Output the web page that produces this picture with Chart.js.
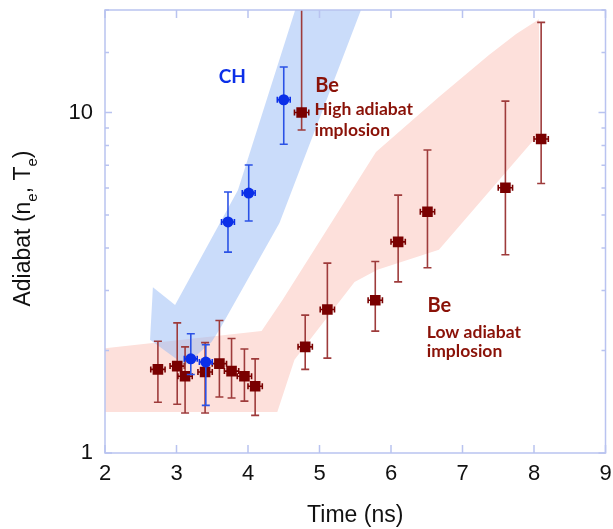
<!DOCTYPE html>
<html>
<head>
<meta charset="utf-8">
<script src="https://cdn.jsdelivr.net/npm/chart.js@4.4.1/dist/chart.umd.min.js"></script>
<style>
  html, body { margin: 0; padding: 0; background: #fff; }
</style>
</head>
<body>
<canvas id="chart" width="613" height="529"></canvas>
<script>
// CH shots (blue circles)
const chTime = [3.20, 3.41, 3.72, 4.01, 4.50];
const chAdiabat = [1.89, 1.85, 4.77, 5.80, 10.9];
const chLow = [1.70, 1.38, 3.89, 4.80, 8.07];
const chHigh = [2.24, 2.08, 5.84, 7.01, 13.6];

// Be low adiabat implosion (dark red squares)
const beLowTime = [2.74, 3.01, 3.12, 3.40, 3.60, 3.77, 3.95, 4.10, 4.80, 5.11, 5.78, 6.10, 6.51, 7.60, 8.10];
const beLowAdiabat = [1.76, 1.80, 1.68, 1.73, 1.83, 1.74, 1.68, 1.57, 2.05, 2.64, 2.81, 4.17, 5.11, 6.01, 8.36];
const beLowLow = [1.41, 1.39, 1.31, 1.31, 1.46, 1.45, 1.42, 1.29, 1.76, 1.90, 2.28, 3.18, 3.50, 3.82, 6.19];
const beLowHigh = [2.13, 2.41, 2.05, 2.11, 2.45, 2.17, 2.02, 1.89, 2.54, 3.61, 3.65, 5.72, 7.76, 10.8, 18.4];

// Be high adiabat implosion
const beHighTime = [4.75];
const beHighAdiabat = [10.0];
const beHighLow = [8.88];
const beHighHigh = [26];

// shaded simulation bands (outline, in data units)
const blueBandX = [4.66, 5.58, 4.44, 3.60, 3.49, 3.12, 2.63, 2.67, 2.98, 3.86];
const blueBandY = [20, 20, 4.74, 2.30, 2.12, 1.81, 2.15, 3.07, 2.72, 5.92];
const redBandX = [2.00, 4.19, 4.48, 5.79, 6.67, 7.37, 7.75, 8.07, 8.08, 6.67, 5.81, 5.49, 4.65, 4.41, 2.00];
const redBandY = [2.03, 2.28, 2.81, 7.66, 11.1, 14.75, 17.0, 18.8, 8.71, 3.95, 3.45, 3.18, 1.88, 1.32, 1.32];

const xTicks = [2, 3, 4, 5, 6, 7, 8, 9];
const yLabels = [1, 10];

const axisColor = '#b9c3f0';
const beColor = '#7a0000';
const beErrColor = '#9e3b3b';
const beTextColor = '#8a1208';
const chColor = '#0b2fe8';
const chErrColor = '#2b52e6';

function pts(xs, ys) {
    return xs.map((x, i) => ({ x: x, y: ys[i] }));
}

// error bars, drawn right before the markers of each dataset
const errorBars = {
    id: 'errorBars',
    beforeDatasetDraw(chart, args) {
        const ds = chart.data.datasets[args.index];
        if (!ds.yLow) return;
        const { ctx, chartArea: a, scales: { x, y } } = chart;
        ctx.save();
        ctx.beginPath();
        ctx.rect(a.left, a.top, a.right - a.left, a.bottom - a.top);
        ctx.clip();
        ds.data.forEach((p, i) => {
            const px = x.getPixelForValue(p.x);
            const py = y.getPixelForValue(p.y);
            const top = y.getPixelForValue(ds.yHigh[i]);
            const bot = y.getPixelForValue(ds.yLow[i]);
            const l = x.getPixelForValue(p.x - ds.xErr);
            const r = x.getPixelForValue(p.x + ds.xErr);
            ctx.strokeStyle = ds.errColor;
            ctx.lineWidth = 1.6;
            ctx.beginPath();
            ctx.moveTo(px, top); ctx.lineTo(px, bot);
            ctx.moveTo(px - 4, top); ctx.lineTo(px + 4, top);
            ctx.moveTo(px - 4, bot); ctx.lineTo(px + 4, bot);
            ctx.stroke();
            ctx.strokeStyle = ds.xErrColor;
            ctx.beginPath();
            ctx.moveTo(l, py); ctx.lineTo(r, py);
            ctx.moveTo(l, py - 3); ctx.lineTo(l, py + 3);
            ctx.moveTo(r, py - 3); ctx.lineTo(r, py + 3);
            ctx.stroke();
        });
        ctx.restore();
    }
};

// frame with inward ticks, y title with subscripts, text labels
const frame = {
    id: 'frame',
    afterDraw(chart) {
        const { ctx, chartArea: a, scales: { x, y } } = chart;
        ctx.save();
        ctx.strokeStyle = axisColor;
        ctx.lineWidth = 1.5;
        ctx.strokeRect(a.left, a.top, a.right - a.left, a.bottom - a.top);
        ctx.beginPath();
        x.ticks.forEach(t => {
            const px = x.getPixelForValue(t.value);
            ctx.moveTo(px, a.bottom); ctx.lineTo(px, a.bottom - 8);
            ctx.moveTo(px, a.top); ctx.lineTo(px, a.top + 8);
        });
        y.ticks.forEach(t => {
            const py = y.getPixelForValue(t.value);
            const len = yLabels.includes(t.value) ? 7 : 4;
            ctx.moveTo(a.left, py); ctx.lineTo(a.left + len, py);
            ctx.moveTo(a.right, py); ctx.lineTo(a.right - len, py);
        });
        ctx.stroke();
        ctx.restore();

        // y axis title: Adiabat (n_e, T_e)
        const parts = [
            ['Adiabat (n', 23, 0], ['e', 15, 7], [', T', 23, 0], ['e', 15, 7], [')', 23, 0]
        ];
        ctx.save();
        ctx.fillStyle = '#111';
        ctx.textBaseline = 'alphabetic';
        let total = 0;
        parts.forEach(p => {
            ctx.font = p[1] + 'px "Liberation Sans", Arial, sans-serif';
            total += ctx.measureText(p[0]).width;
        });
        ctx.translate(30, (a.top + a.bottom) / 2 - 3);
        ctx.rotate(-Math.PI / 2);
        let cx = -total / 2;
        parts.forEach(p => {
            ctx.font = p[1] + 'px "Liberation Sans", Arial, sans-serif';
            ctx.fillText(p[0], cx, p[2]);
            cx += ctx.measureText(p[0]).width;
        });
        ctx.restore();

        // annotations
        const notes = [
            ['CH', 3.59, 12.2, 19, chColor],
            ['Be', 4.94, 11.5, 20, beTextColor],
            ['High adiabat', 4.93, 9.83, 17.5, beTextColor],
            ['implosion', 4.93, 8.53, 17.5, beTextColor],
            ['Be', 6.51, 2.60, 20, beTextColor],
            ['Low adiabat', 6.50, 2.18, 17.5, beTextColor],
            ['implosion', 6.50, 1.91, 17.5, beTextColor]
        ];
        ctx.save();
        ctx.textBaseline = 'alphabetic';
        notes.forEach(n => {
            ctx.font = 'bold ' + n[3] + 'px Lato, "Open Sans", sans-serif';
            ctx.fillStyle = n[4];
            ctx.fillText(n[0], x.getPixelForValue(n[1]), y.getPixelForValue(n[2]));
        });
        ctx.restore();
    }
};

const ctx = document.getElementById('chart').getContext('2d');
const chart = new Chart(ctx, {
    type: 'scatter',
    data: {
        datasets: [
            {
                label: 'Be band',
                data: pts(redBandX, redBandY),
                showLine: true,
                fill: 'shape',
                backgroundColor: '#fde0db',
                borderWidth: 0,
                pointRadius: 0,
                tension: 0,
                order: 4
            },
            {
                label: 'CH band',
                data: pts(blueBandX, blueBandY),
                showLine: true,
                fill: 'shape',
                backgroundColor: 'rgba(150, 186, 246, 0.5)',
                borderWidth: 0,
                pointRadius: 0,
                tension: 0,
                order: 3
            },
            {
                label: 'Be low adiabat',
                data: pts(beLowTime, beLowAdiabat),
                yLow: beLowLow,
                yHigh: beLowHigh,
                xErr: 0.1,
                errColor: beErrColor,
                xErrColor: beColor,
                pointStyle: 'rect',
                pointRadius: 7.5,
                backgroundColor: beColor,
                borderColor: beColor,
                borderWidth: 0,
                order: 2
            },
            {
                label: 'Be high adiabat',
                data: pts(beHighTime, beHighAdiabat),
                yLow: beHighLow,
                yHigh: beHighHigh,
                xErr: 0.1,
                errColor: beErrColor,
                xErrColor: beColor,
                pointStyle: 'rect',
                pointRadius: 7.5,
                backgroundColor: beColor,
                borderColor: beColor,
                borderWidth: 0,
                order: 1
            },
            {
                label: 'CH',
                data: pts(chTime, chAdiabat),
                yLow: chLow,
                yHigh: chHigh,
                xErr: 0.09,
                errColor: chErrColor,
                xErrColor: chColor,
                pointStyle: 'circle',
                pointRadius: 5.5,
                backgroundColor: chColor,
                borderColor: chColor,
                borderWidth: 0,
                order: 0
            }
        ]
    },
    options: {
        responsive: false,
        animation: false,
        layout: { padding: { left: 0, right: 6, top: 10, bottom: 0 } },
        plugins: {
            legend: { display: false },
            tooltip: { enabled: false }
        },
        scales: {
            x: {
                type: 'linear',
                min: 2,
                max: 9,
                afterBuildTicks: s => { s.ticks = xTicks.map(v => ({ value: v })); },
                grid: { display: false, drawTicks: false },
                border: { display: false },
                ticks: {
                    padding: 8,
                    color: '#111',
                    font: { family: '"Liberation Sans", Arial, sans-serif', size: 22 }
                },
                title: {
                    display: true,
                    text: 'Time (ns)',
                    color: '#111',
                    padding: 0,
                    font: { family: '"Liberation Sans", Arial, sans-serif', size: 23 }
                },
                afterFit: s => {
                    s.height = 76;
                    s.paddingLeft = 0;
                    s.paddingRight = 0;
                }
            },
            y: {
                type: 'logarithmic',
                min: 1,
                max: 20,
                grid: { display: false, drawTicks: false },
                border: { display: false },
                ticks: {
                    autoSkip: false,
                    padding: 12,
                    color: '#111',
                    font: { family: '"Liberation Sans", Arial, sans-serif', size: 22 },
                    callback: v => yLabels.includes(v) ? String(v) : ''
                },
                afterFit: s => {
                    s.width = 105;
                    s.paddingTop = 0;
                    s.paddingBottom = 0;
                }
            }
        }
    },
    plugins: [errorBars, frame]
});
</script>
</body>
</html>
